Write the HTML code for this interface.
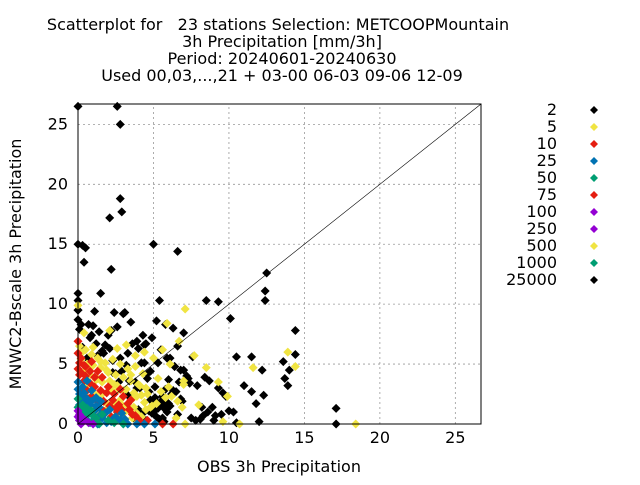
<!DOCTYPE html>
<html><head><meta charset="utf-8"><style>
body{margin:0;background:#fff;}
svg text{font-family:"DejaVu Sans","Liberation Sans",sans-serif;fill:#000;}
</style></head><body>
<svg id="chart" width="640" height="480" xmlns="http://www.w3.org/2000/svg">
<g font-size="16" text-anchor="middle">
<text x="278" y="30" xml:space="preserve">Scatterplot for   23 stations Selection: METCOOPMountain</text>
<text x="282" y="47">3h Precipitation [mm/3h]</text>
<text x="282" y="64">Period: 20240601-20240630</text>
<text x="282" y="81">Used 00,03,...,21 + 03-00 06-03 09-06 12-09</text>
</g>
<g id="grid"></g>
<g id="marks"></g>
<line id="diag" stroke="#000" stroke-width="0.6"/>
<rect x="78" y="104" width="403" height="320" fill="none" stroke="#000" stroke-width="1"/>
<g id="axes" font-size="16"></g>
<text x="279" y="472" font-size="16" text-anchor="middle">OBS 3h Precipitation</text>
<text transform="translate(21,264) rotate(-90)" font-size="16" text-anchor="middle">MNWC2-Bscale 3h Precipitation</text>
<g id="legend" font-size="16"></g>
</svg>
<script>
const xTicks=[0,5,10,15,20,25];
const yTicks=[0,5,10,15,20,25];
const legendLabels=["2","5","10","25","50","75","100","250","500","1000","25000"];
const legendColors=["#000000","#f0e442","#e51e10","#0072b2","#009e73","#e51e10","#9400d3","#9400d3","#f0e442","#009e73","#000000"];
const blackX=[0,2.6,2.8,2.8,2.9,2.1,0,0.3,0.5,5,6.6,0.4,2.2,12.5,12.4,12.4,0,0,5.4,8.5,1.5,14.4,10.1,9.3,17.1,17.1,0,0,0.7,1.1,1.4,2.2,2.4,3.1,4,4.5,5.2,5.8,6.3,6.6,7,7.6,8.4,9.3,10.5,11.5,12.2,13.6,14,14.4,13.7,11,9.8,8.9,8.3,7.4,6.8,6.1,5.5,4.9,4.4,3.9,3.5,3,2.6,2,1.6,1.2,0.8,0.3,0.6,1.3,2.1,2.8,3.6,4.2,4.8,5.3,5.9,6.4,7,7.9,8.7,9.6,10.3,11.5,12.3,13.9,3.2,3.8,4.6,5.1,5.6,6.2,6.7,7.2,2.5,3.4,4.1,4.7,5.2,5.7,6.3,1.8,2.3,2.9,3.3,4.4,5,5.4,6,6.5,7.8,8.2,9.5,10,11.8,0.9,1.7,4.3,5.8,6.9,7.5,9,10.5,12,4.6,5.1,5.6,6.6,3.9,1,4.8,5,5.3,5.5,4.9,5.2,4.7,5.6,5.9,6.1,4.5,3.7,3.3,2.7,2.3,6.8,7.3,5.8,6.4,6,0,0.2,0.1,8.1,8.6,9.1,4,4.3,5.7];
const blackY=[26.5,26.5,25,18.8,17.7,17.2,15,14.9,14.7,15,14.4,13.5,12.9,12.6,11.1,10.3,10.9,10.3,10.3,10.3,10.9,7.8,8.8,10.2,1.3,0,9.5,8.7,8.3,9.4,7.7,7.8,9.3,9.3,6.3,6.7,8.6,8.3,8,6.5,7.6,5.6,3.9,3,5.6,5.6,4.5,5.2,4.5,5.8,3.8,3.2,2.3,1.4,0.7,3.4,4.5,5.5,6.2,7.2,6.6,6.9,8.5,9.2,8.1,7.4,6.1,6.7,7.2,6.4,5.5,5.7,6.3,5.5,6.7,5.1,4.4,5.1,5.5,4.8,4.5,3.2,3.6,2.6,1,2.7,2.4,3.2,4.9,3.5,4.2,2.2,1.5,2.5,3.5,4,4.2,3.6,3,2.7,1.8,2,2.8,6.6,5.3,4.4,5.9,5.1,1,0.4,1.7,2.7,0.3,1.4,0.8,1.1,1.7,7.4,5.9,7.4,1.2,1.9,0.5,0.3,0.1,0.2,3.8,3.1,2.3,0.8,3,8.2,2,1.6,1.3,1.9,0.9,0.6,1.1,0.5,1,1.5,0.3,0.5,2.4,3.5,4.3,2.1,3.8,2.9,4.8,3.7,9.5,8.3,7.9,0.4,1,0.7,1.2,0.9,0.2];
const yellowX=[0,0.4,1,1.5,2.1,2.6,3.2,3.8,4.4,5,5.6,6.1,6.7,7.1,7.7,8.5,9.3,9.9,11.6,13.9,14.4,18.4,10.7,0.2,0.7,1.3,1.9,2.4,3,3.5,4.1,4.6,5.2,0.5,1.1,1.7,2.2,2.8,3.3,3.9,4.5,0.3,0.9,1.4,2,2.6,3.1,3.7,4.2,5.3,6,6.9,0.6,1.6,2.7,3.6,4.8,5.8,7,8,9.6,6.5,7.1,0.1,0.5,0.9,1.3,1.8,2.3,2.8,3.3,3.8,4.3,0.2,0.6,1,1.5,2,2.5,3,3.5,4,4.5,0.4,0.8,1.2,1.6,2.1,2.6,3.2,3.7,4.2,1.4,1.9,2.4,2.9,3.4,3.9,2.2,2.7,3.1,3.6,4,4.4,4.9,5.5,6.2,6.6,7,5.9];
const yellowY=[9.9,7.6,6.4,5.2,7.8,6.3,6.6,5.7,6,5.5,6.2,5,6.9,9.6,5.7,4.7,3.5,2.3,4.7,6,4.8,0,0,5.9,4.6,3.8,4.5,3.3,2.8,4.1,3.2,2.5,1.7,3.1,2.5,1.9,2.8,2,1.5,2.3,1.2,1.9,1.4,0.9,1.3,0.8,1,1.4,0.6,3.8,3.1,1.4,2.2,2.5,2.9,2.1,1.4,2.2,3.6,1.6,0.2,0.5,0,6.5,6.2,5.8,5.5,5.1,5.4,5,4.6,4.8,4.2,5.4,5,4.9,4.7,4.3,4.1,3.9,3.6,3.3,3,4.4,4.1,3.7,3.5,3.6,3.2,2.9,2.6,2.4,2.5,1.7,1.8,1.6,1.1,0.9,0.6,0.4,0.3,0.5,0.2,1.8,1.5,2.7,2.3,1.9,3.3,8.4];
const redX=[0,0.2,0.5,0.9,1.3,1.6,2,2.4,0.1,0.4,0.8,1.1,1.5,1.9,2.3,2.7,3,3.4,3.8,0.3,0.7,1.2,1.7,2.2,2.6,3.1,3.6,4.1,4.6,5.6,6.3,1,1.4,2.8,0,0.2,0.5,0.8,1.1,0.3,0.6,0.9,1.3,1.7,2.1,2.5,2.9,3.3,0,0.1,0.4,3.5,4];
const redY=[6.9,5.5,4.8,5.2,4.4,3.9,3.1,2.5,4.1,3.6,3.4,3.9,2.8,2.6,2,1.6,2.3,1.2,0.7,2.4,2.1,1.5,1.1,0.6,1,0.4,0.8,0.2,0.3,0,0,0.1,0.5,2.9,4.6,4.3,4,4.4,3.1,2.9,2.8,2.3,1.9,1.9,1.5,1.3,1.2,1.7,5.9,5.1,4.9,2,0.4];
const blueX=[0,0.3,0.6,0.9,1.2,1.5,0.1,0.4,0.8,1.1,1.4,1.8,2.1,2.5,2.9,0.2,0.5,1,1.6,2.2,2.8,3.3,3.9,4.4,5.1,0.7,1.3,1.9,0,0.2,0.4,0.6,0.9,1.2,0.1,0.5,0.8,1.5,2.4,3.1];
const blueY=[3.5,3.1,3.6,2.8,2.2,1.9,2.5,1.8,1.6,1.1,1.4,0.9,1.2,0.6,0.9,1.2,0.7,0.3,0.5,0.2,0.3,0,0,0,0,0.2,0,0.1,2.9,2.2,2.6,2.1,1.9,1.5,1.6,1.3,0.9,0.8,0.5,0.4];
const greenX=[0,0.3,0.6,0.2,0.5,0.9,1.2,1.6,2,0.1,0.8,1.4,2.4,3,0,0.4,0.7,1,1.1,0.2];
const greenY=[2.1,1.6,1.3,0.9,0.6,1.1,0.5,0.8,0.3,0.3,0.1,0,0.1,0,1.4,1.2,0.9,0.7,0.3,0.4];
const purpleX=[0,0.1,0.3,0.5,0.7,1,0.2,0,0.1];
const purpleY=[1.1,0.8,0.5,0.3,0.1,0,0,0.6,0.3];
const NS="http://www.w3.org/2000/svg";
const X0=78,X1=481,Y0=424,Y1=104,XMAX=26.7,YMAX=26.7;
const sx=v=>X0+v*(X1-X0)/XMAX, sy=v=>Y0-v*(Y0-Y1)/YMAX;
function mk(t,a,p){const e=document.createElementNS(NS,t);for(const k in a)e.setAttribute(k,a[k]);p.appendChild(e);return e;}
const grid=document.getElementById('grid'),axes=document.getElementById('axes');
xTicks.forEach(v=>{
 if(v>0){const l=mk('line',{x1:sx(v),x2:sx(v),y1:Y0,y2:Y1,stroke:'#999','stroke-dasharray':'2,3','stroke-width':0.8},grid);
 
 }
 const t=mk('text',{x:sx(v),y:Y0+19,'text-anchor':'middle'},axes);t.textContent=v;
 
 
});
yTicks.forEach(v=>{
 if(v>0){const l=mk('line',{x1:X0,x2:X1,y1:sy(v),y2:sy(v),stroke:'#999','stroke-dasharray':'2,3','stroke-width':0.8},grid);
 
 }
 const t=mk('text',{x:X0-10,y:sy(v)+5,'text-anchor':'end'},axes);t.textContent=v;
 
 
});
const d=document.getElementById('diag');
d.setAttribute('x1',sx(0));d.setAttribute('y1',sy(0));d.setAttribute('x2',sx(26.7));d.setAttribute('y2',sy(26.7));
const marks=document.getElementById('marks');
function dia(x,y,c,r){return mk('polygon',{points:`${x},${y-r} ${x+r},${y} ${x},${y+r} ${x-r},${y}`,fill:c},marks);}
const series=[[blackX,blackY,'#000000'],[yellowX,yellowY,'#f0e442'],[redX,redY,'#e51e10'],[blueX,blueY,'#0072b2'],[greenX,greenY,'#009e73'],[purpleX,purpleY,'#9400d3']];
series.forEach(s=>{s[0].forEach((xv,i)=>{const p=dia(sx(xv),sy(s[1][i]),s[2],4.5);
 
 });});
const lg=document.getElementById('legend');
legendLabels.forEach((lab,i)=>{const y=110+i*17;
 const t=mk('text',{x:557,y:y+5,'text-anchor':'end'},lg);t.textContent=lab;
 
 
 const p=mk('polygon',{points:`594,${y-4} 598,${y} 594,${y+4} 590,${y}`,fill:legendColors[i]},lg);
 
 
});
</script>
</body></html>
